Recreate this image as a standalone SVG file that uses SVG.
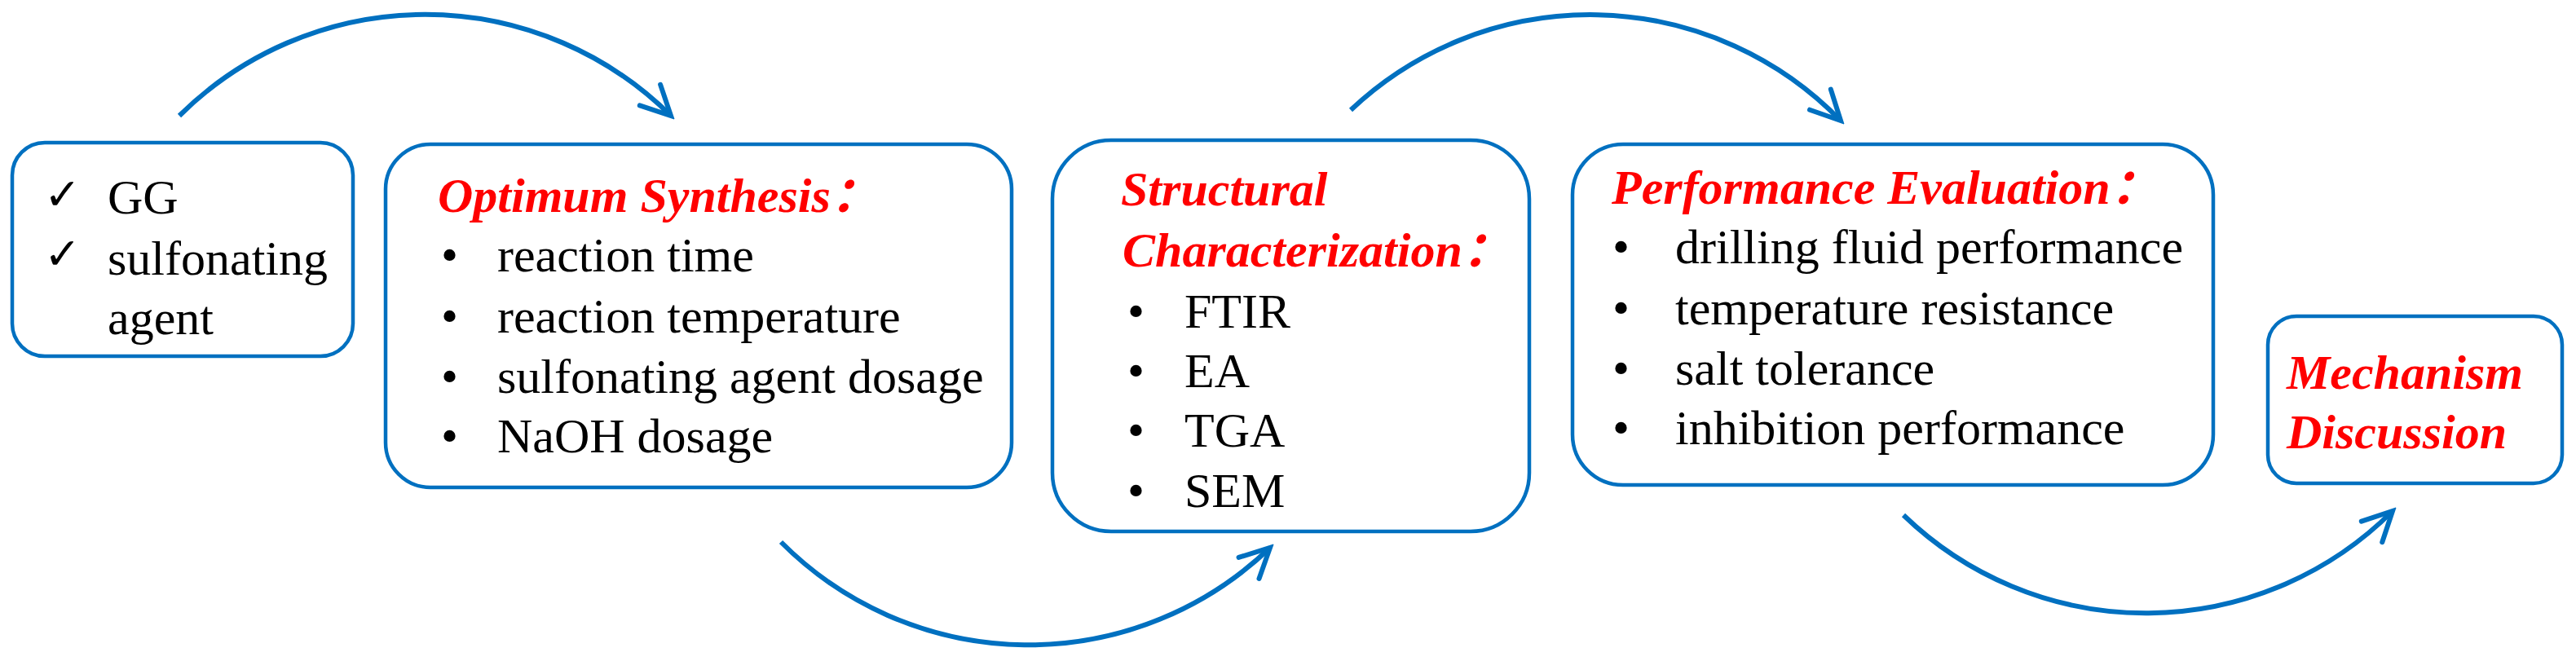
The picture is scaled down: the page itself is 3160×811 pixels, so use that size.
<svg xmlns="http://www.w3.org/2000/svg" width="3160" height="811" viewBox="0 0 3160 811">
<defs>
<style>
.box{fill:#FFFFFF;stroke:#0070C0;stroke-width:4.5}
.t{font-family:"Liberation Serif","Times New Roman",serif;font-size:60px;fill:#000000}
.h{font-family:"Liberation Serif","Times New Roman","Noto Sans CJK SC",serif;font-size:60px;font-weight:bold;font-style:italic;fill:#FF0000}
.ck{font-family:"DejaVu Sans",sans-serif;font-size:54px;font-weight:bold;fill:#000000}
.arc{fill:none;stroke:#0070C0;stroke-width:6;stroke-linecap:butt}
</style>
<marker id="chev" viewBox="-44 -24 50 48" refX="0" refY="0" markerWidth="50" markerHeight="48" markerUnits="userSpaceOnUse" orient="auto">
<path d="M-36,-18 L0,0 L-36,18" fill="none" stroke="#0070C0" stroke-width="6" stroke-linecap="round" stroke-linejoin="miter"/>
</marker>
</defs>
<rect width="3160" height="811" fill="#FFFFFF"/>
<g id="connectors">
<path class="arc" d="M220,142 A428,428 0 0 1 823,142" marker-end="url(#chev)"/>
<path class="arc" d="M958,665 A428,428 0 0 0 1558,672" marker-end="url(#chev)"/>
<path class="arc" d="M1657,135 A428,428 0 0 1 2258,148" marker-end="url(#chev)"/>
<path class="arc" d="M2335,632 A428,428 0 0 0 2935,627" marker-end="url(#chev)"/>
</g>
<g id="node-materials">
<rect class="box" x="15" y="175" width="418" height="262" rx="40"/>
<text class="ck" x="54" y="257">✓</text>
<text class="ck" x="54" y="330">✓</text>
<text class="t" x="132" y="262">GG</text>
<text class="t" x="132" y="337">sulfonating</text>
<text class="t" x="132" y="410">agent</text>
</g>
<g id="node-synthesis">
<rect class="box" x="473" y="177" width="768" height="421" rx="55"/>
<text class="h" x="537" y="260">Optimum Synthesis：</text>
<text class="t" x="541" y="333">•</text>
<text class="t" x="610" y="333">reaction time</text>
<text class="t" x="541" y="408">•</text>
<text class="t" x="610" y="408">reaction temperature</text>
<text class="t" x="541" y="482">•</text>
<text class="t" x="610" y="482">sulfonating agent dosage</text>
<text class="t" x="541" y="555">•</text>
<text class="t" x="610" y="555">NaOH dosage</text>
</g>
<g id="node-characterization">
<rect class="box" x="1291" y="172" width="585" height="480" rx="72"/>
<text class="h" x="1375" y="252">Structural</text>
<text class="h" x="1377" y="327">Characterization：</text>
<text class="t" x="1383" y="402">•</text>
<text class="t" x="1453" y="402">FTIR</text>
<text class="t" x="1383" y="475">•</text>
<text class="t" x="1453" y="475">EA</text>
<text class="t" x="1383" y="548">•</text>
<text class="t" x="1453" y="548">TGA</text>
<text class="t" x="1383" y="622">•</text>
<text class="t" x="1453" y="622">SEM</text>
</g>
<g id="node-evaluation">
<rect class="box" x="1929" y="177" width="786" height="418" rx="62"/>
<text class="h" x="1977" y="250">Performance Evaluation：</text>
<text class="t" x="1978" y="323">•</text>
<text class="t" x="2055" y="323">drilling fluid performance</text>
<text class="t" x="1978" y="398">•</text>
<text class="t" x="2055" y="398">temperature resistance</text>
<text class="t" x="1978" y="472">•</text>
<text class="t" x="2055" y="472">salt tolerance</text>
<text class="t" x="1978" y="545">•</text>
<text class="t" x="2055" y="545">inhibition performance</text>
</g>
<g id="node-mechanism">
<rect class="box" x="2782" y="388" width="361" height="205" rx="35"/>
<text class="h" x="2805" y="477">Mechanism</text>
<text class="h" x="2805" y="550">Discussion</text>
</g>
</svg>
